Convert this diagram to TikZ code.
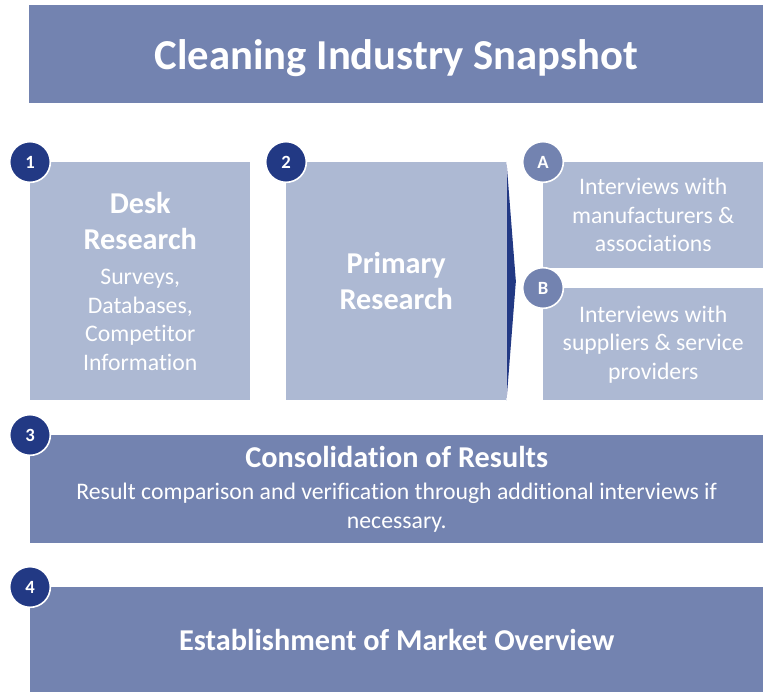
\documentclass[tikz,border=0pt]{standalone}
\usepackage{fontspec}
\setmainfont{Carlito}[Ligatures=NoCommon]
\usetikzlibrary{positioning}
\definecolor{barblue}{RGB}{115,131,176}
\definecolor{paleblue}{RGB}{173,185,211}
\definecolor{navyblue}{RGB}{34,57,132}

\begin{document}
\begin{tikzpicture}[x=0.75pt,y=-0.75pt,
    box/.style={fill=#1,text=white,inner sep=0pt,align=center,anchor=north west},
    num/.style={circle,fill=#1,draw=white,line width=1.2pt,text=white,
      minimum size=30.5pt,inner sep=0pt,font=\bfseries\fontsize{14}{16}\selectfont},
    head/.style={font=\bfseries\fontsize{22.7}{27}\selectfont},
    body/.style={font=\fontsize{17.8}{21.4}\selectfont}]
    \useasboundingbox (0,0) rectangle (765,692);
    \node[box=barblue,minimum width=550.5pt,minimum height=73.5pt,text depth=0pt,
      font=\bfseries\fontsize{32}{38}\selectfont] (title) at (29,5) {Cleaning Industry Snapshot};
    \node[box=paleblue,minimum width=165pt,minimum height=178.5pt,body] (desk) at (30,162)
      {\bfseries\fontsize{22.7}{27}\selectfont Desk\\[5.6pt] \bfseries\fontsize{22.7}{27}\selectfont Research\\[5pt]
       Surveys,\\ Databases,\\ Competitor\\ Information};
    \node[box=paleblue,minimum width=165pt,minimum height=178.5pt,head] (primary) at (286,162)
      {Primary\\ Research};
    \node[box=paleblue,minimum width=165pt,minimum height=79pt,body] (intA) at (543,162)
      {Interviews with\\ manufacturers \&\\ associations};
    \node[box=paleblue,minimum width=165pt,minimum height=84pt,body] (intB) at (543,288)
      {Interviews with\\ suppliers \& service\\ providers};
    \node[box=barblue,minimum width=549.75pt,minimum height=81pt,body] (consol) at (30,435)
      {\bfseries\fontsize{22.7}{27}\selectfont Consolidation of Results\\[3pt]
       Result comparison and verification through additional interviews if\\[0.5pt] necessary.};
    \node[box=barblue,minimum width=549.75pt,minimum height=78.75pt,head] (overview) at (30,587)
      {Establishment of Market Overview};
    % arrow tip from primary research to the interviews
    \fill[navyblue] (primary.north east) -- ([xshift=7pt]primary.east) -- (primary.south east) -- cycle;
    \node[num=navyblue] (n_1) at (desk.north west) {1};
    \node[num=navyblue] (n_2) at (primary.north west) {2};
    \node[num=barblue] (n_A) at (intA.north west) {A};
    \node[num=barblue] (n_B) at (intB.north west) {B};
    \node[num=navyblue] (n_3) at (consol.north west) {3};
    \node[num=navyblue] (n_4) at (overview.north west) {4};
\end{tikzpicture}
\end{document}
